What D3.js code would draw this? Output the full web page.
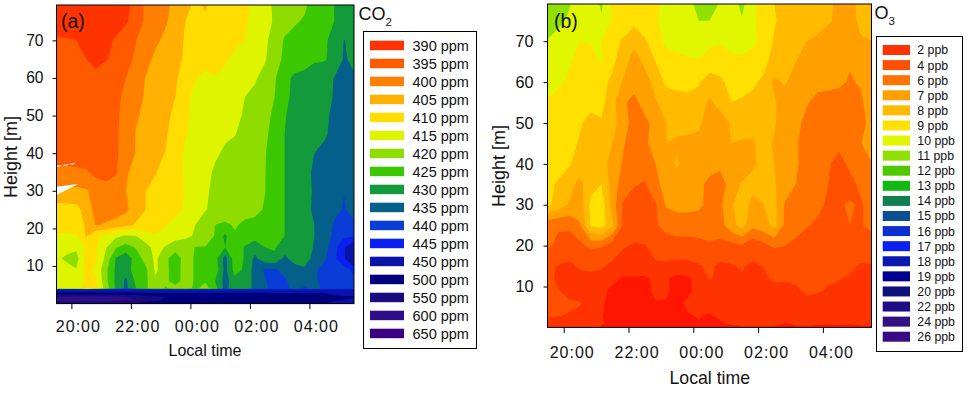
<!DOCTYPE html>
<html>
<head>
  <meta charset="utf-8">
  <script src="https://d3js.org/d3.v7.min.js"></script>
  <style>
  body { margin:0; background:#fff; }
  text { font-family:"Liberation Sans", Arial, sans-serif; fill:#111; }
  .axis path { display:none; }
  .axis line { stroke:#000; }
</style>
</head>
<body>
<script>

  // hours after midnight of the first day, 20:00 = 20, 00:00 = 24
  var timeTicks = [20, 22, 24, 26, 28];
  var timeLabels = ["20:00", "22:00", "00:00", "02:00", "04:00"];
  var heightTicks = [10, 20, 30, 40, 50, 60, 70];
  var gridTimes = d3.range(31).map(i => 19.5 + i / 3);

  var co2Levels = [390, 395, 400, 405, 410, 415, 420, 425, 430, 435, 440, 445, 450, 500, 550, 600, 650];
  var co2Colors = ["#ff3300", "#ff5a00", "#ff8000", "#ffb000", "#ffdd00", "#dff500", "#8fdc00", "#3cc800", "#139a3a", "#045f8a", "#0a3cd8", "#0a20f0", "#0a14a8", "#00007f", "#1a0a80", "#2f0f88", "#3a0080"];
  var co2Heights = [80, 75, 70, 65, 60, 55, 50, 45, 40, 35, 30, 25, 21, 18, 15, 12, 9, 6, 4, 3.7, 2.8, 1.8, 0.9, 0];
  var co2Grid = [
    [392,392,392,392,392,392,393,394,396,401,403,404,406,409,410.5,409.5,411,412,413,414,416,418,421,422,423,424,427,428,430,431,432],
    [391,391,391,391,391,392,393,394.5,397,401,403,404.5,407,410,411,410.5,412,413,413.5,414.5,416,418.5,420.5,423,424.5,425.5,428,428,430,431,432],
    [396,395.5,395,394,393,394,395.5,397.5,399.8,402.5,404.2,406,408,410.5,411.5,412,412.5,413,414,415,417,419,422,425.5,426.5,427,429.5,429.5,431,435.2,433],
    [396,396,395.5,395,393.5,394.8,396,398,401,403.5,406,407.5,409,410.5,412,413.5,413.5,414.5,416,416.5,418,419.5,423,426,427,428,429.5,429.5,431.5,435.5,434],
    [396.5,396.5,396.5,396.5,396.5,397,398,400,402.5,405.2,406.5,408,409.5,412,414.8,416,415.2,416,416.5,418,419.5,421.5,424.5,428.5,431,431.5,432,433.5,435.1,437,435.5],
    [397,397,397,397,397,397.5,399,401,403.5,405.5,407,408.5,410,414,416,416.5,417,417.5,418.5,420,421,423,425,429,431,431.5,432.5,434,435.2,436.5,436.5],
    [397,397,397,397,397,397.5,399.5,401,404.5,406,407.5,409,411,414.5,416,417,418,419.7,419,420.5,421.5,423.5,426,429.8,431,432,433,434.5,435.5,436.5,436.5],
    [397,397,397,397,397,397.5,399.5,401.5,405.2,406.5,408,409.5,412,414.8,416,417,418,419.5,419.9,421,422,424,427,430,431,432,433,434.5,436,437,437],
    [397,397,397,397,397.5,398,399.5,401.5,405.3,406.5,408.5,410.2,413.5,415.5,416.5,418,419.5,420.5,421,421.5,422,424.7,427,430,431.5,433,435,436,437,439,438],
    [401.5,401.5,401,400.5,398.5,398,399.5,404.6,406,408,409.8,411.5,413.5,415.5,417,419,420.5,421,422,423,423.5,424.8,427.5,430,432,434,435.5,436,437.5,439.5,438],
    [406,406,406,405.5,403,402,402,405,407,410,411,412,413.5,415.3,418,419.6,420.6,421.5,422,423,423.5,424.8,428,430,432,433.5,435.5,436,437,439.8,438],
    [412,412,411.5,408,403,402.5,402.5,404,407.5,410,411,412.5,414,415.5,418,419.8,421,421.5,422,423,423.5,425.5,428,430,432,434,435.5,436,438.5,440.5,437.5],
    [412,412,412,409.5,404.5,405.5,407,408,410.5,412,413.5,414.8,416,418.5,420,421.5,425,425.8,424.5,426,426.5,427,428.5,430,431.5,433.5,435,437,440.5,441,441],
    [416,416,415.5,409.5,414.5,416,419,420.5,420.2,417,415.2,416,418,419,420.5,421.5,425.5,431,425.5,426.5,428,427,428,430,431.5,433,435,437,441,444,444.5],
    [417,418,419,414.5,414.5,419.8,424.5,427,424.5,422,418,420.5,423,423,425.2,425.2,427,430,427,430.5,433,430,429.5,433,431.5,432,435.5,438,443,449.5,455],
    [419,421,422,413.5,414.5,421.5,430.5,433,428,423,419,424,427.5,423,425.5,426,428,437,427,430.5,436,432,431,436,433,432,437,439,444,449,460],
    [417,418,419.7,413.5,416,424,431,433,427,426,419,424,427,423,425.5,426.5,427,436.5,428,431,437,440.5,441,438,437,436,439,442,443,443,446],
    [417,417,417,414.5,414.5,424,431,436,429,426,421,424,427,423,425.5,425.5,430,437,432,431,437,439.5,442,441,437.5,437,439,442,443,443,444],
    [417,417,417,413,414.5,422,431,436,430,426,421,425.5,423,423,426,423,428,437,431,431,437,439,442,442,438,441,438,441,443,443,444],
    [455,456,456,455,456,455,456,455,455,453,453,453,452,452,452,452,452,452,452,452,452,452,452,452,452,452,452,452,452,452,452],
    [520,515,515,515,510,510,510,510,510,505,505,505,505,505,505,505,505,505,505,505,505,505,500,500,500,500,500,500,490,480,470],
    [590,610,610,600,610,605,610,600,590,560,560,550,550,540,540,530,530,530,525,520,520,515,510,510,510,510,510,510,505,505,505],
    [620,630,620,620,610,620,610,605,600,570,560,540,540,530,520,520,520,520,510,510,510,510,510,510,505,505,505,505,505,500,490],
    [560,570,560,560,560,560,560,550,540,520,520,510,510,510,505,505,505,505,505,505,505,505,505,505,505,505,505,500,490,470,460]
  ];
  // unfilled gaps at the left edge of panel (a)
  var gapWedgeTimes = [19.5, 20.23, 19.5];
  var gapWedgeHeights = [31.1, 31.8, 28.9];
  var gapLineTimes = [19.5, 20.17];
  var gapLineHeights = [36.5, 37.3];

  var o3Levels = [2, 4, 6, 7, 8, 9, 10, 11, 12, 13, 14, 15, 16, 17, 18, 19, 20, 22, 24, 26];
  var o3Colors = ["#ff3300", "#ff5000", "#ff7300", "#ffa000", "#ffbb00", "#ffe000", "#e0f700", "#90e000", "#50c800", "#10b810", "#108050", "#0a5090", "#0a30d0", "#0a20f0", "#0a18b0", "#000090", "#10107a", "#1e0c85", "#351080", "#3a0a85"];
  var o3BelowColor = "#ff1500";
  var o3Heights = [80, 75, 70, 65, 60, 55, 50, 45, 40, 35, 30, 25, 20, 15, 12, 9, 6, 3, 1, 0];
  var o3Grid = [
    [11.5,11.5,11.2,10.3,10.5,11.2,9.8,9.5,9.5,9.5,9.8,10.2,10.5,10.8,11.3,11.2,11,10.5,11.4,10.2,9.5,9,8.5,8.5,8.5,8.5,8.2,7.8,7.7,8.3,8.5],
    [11.8,11.3,10.8,10.3,10.2,10.9,9.9,9.5,9.3,9.4,9.9,10.3,10.5,10.7,11,11,10.6,10.4,10.9,10.2,9.6,9.1,8.6,8.5,8.5,8.4,8.1,7.8,7.7,8.2,8.5],
    [10.9,10.5,10.3,10,10.1,10,9.3,8.9,8.3,8.9,9.5,10.3,10.5,10.6,10.8,10.2,10.1,10.5,10.4,10.2,9.7,8.9,8.6,8.3,8,7.8,7.6,7.5,7.5,7.9,8],
    [10.5,10.3,10.1,9.7,9.5,10.1,9.2,8.5,7.5,8.2,9,9.4,9.6,9.8,9.9,9.6,9.5,9.6,9.8,9.6,9.3,8.6,8.3,8,7.6,7.4,7.4,7.3,7.1,7.4,7.6],
    [10.3,10.1,9.9,9.6,9.4,9.3,8.8,7.9,7.5,7.6,8.3,9.2,9.3,9.3,9.1,8.5,8.8,9.3,9.3,9.2,8.8,7.8,8.1,7.5,7.3,7.3,7.3,7.2,6.9,7.1,7.5],
    [9.9,9.8,9.7,9.5,9.3,9.3,8.3,7.2,6.6,7.5,7.9,8.4,8.6,8.7,8.6,7.8,8.4,9,8.9,8.7,8.5,8.1,7.6,7.4,7.1,6.7,6.6,6.5,6.3,6.8,7.6],
    [9.8,9.7,9.5,9.1,8.7,8.9,8.3,7.6,6.5,6.7,7.4,8,8.2,8.3,8.2,7.5,7.5,8.1,8.4,8.4,8.3,8.1,7.5,7.3,6.7,6.5,6.3,6.3,6.4,6.7,7.3],
    [9.6,9.5,9.3,8.9,8.6,8.5,8,7.1,6.5,6.8,7.4,8,7.9,7.8,7.7,7.4,7.6,8,7.9,7.9,8.3,7.9,7.5,7.1,6.6,6.4,6.2,6.2,6.4,6.9,8.1],
    [9.4,9.3,9.1,8.6,8.3,8.3,7.7,6.9,6.3,6.4,7,7.7,8.1,7.5,7.4,7.3,7.2,7.2,7.4,7.9,8.2,8,7.6,7.1,6.7,6.4,6.1,5.7,6.2,6.6,6.9],
    [9.2,8.9,8.4,7.7,8.7,9,7.6,6.5,6.1,5.9,6.8,7.3,7.5,7.2,7.2,6.8,6.6,7.4,8.1,8.2,8.3,8.1,7.5,7,6.7,6.3,6,5.6,5.7,6.2,6.4],
    [9.2,8.6,7.9,7.5,9.2,9.6,7.5,5.9,5.4,5.5,5.9,7.1,7.3,7.3,7.2,6.7,6.8,7.9,8.4,7.8,8,8.3,6.9,6.7,6.6,6.3,5.8,5.9,6.1,5.9,6.3],
    [6.3,6.2,6.2,6.9,9.1,9.5,8.2,5.8,5.2,5.3,5.9,6.4,6.5,6.5,6.5,6.4,6.6,7.6,8.4,7.3,7.6,8.3,6.8,6.5,6.1,5.8,5.9,5.9,6,5.9,6.3],
    [6.3,5.6,5.5,5.7,6.3,6.2,5.5,4.2,3.8,3.9,5.2,5.4,5.6,5.6,5.7,5.9,5.7,5.7,5.9,5.3,5.7,6.2,6,5.7,5.3,5.4,5.1,5.4,5.3,5.2,5.4],
    [4.5,3.9,3.5,4.3,4.4,4.3,3.5,3,2.5,3,3.5,3.5,3.3,3.3,3.8,4.5,3.5,3.8,4.2,3.6,4.1,4.6,4.7,4.8,4.8,4.8,4.7,4.6,4.4,3.8,3.8],
    [4.4,3.7,3.1,3.4,3.5,3.2,2.6,1.8,1.9,1.8,2.3,2.2,1.5,1.7,2.8,4.2,3.5,3.5,3.8,3.6,3.7,4.3,4.2,4.4,4.5,4.5,4.3,4.1,3.8,3.3,3.3],
    [4.6,4.1,3.3,3,3,2.6,1.5,1.3,1.7,1.5,2.4,2.3,1.3,1.6,2.6,2.8,3,3.2,3.2,3.2,3.3,3.4,3.4,3.7,4.4,4.2,3.8,3.5,3.3,3.1,3.1],
    [4.7,4.6,4.3,4.1,3.2,2.3,1.3,1.2,1.2,1.3,1.9,1.9,1.6,2.3,2.7,2.8,2.8,2.2,3.1,2.9,2.9,3,3,3,3.4,3.3,3.2,3.1,3,3,3],
    [4.2,4.1,3.9,3.7,2.8,2.1,1.3,1.2,1.2,1.3,1.6,1.7,1.5,1.9,2.1,1.9,2.4,2.2,2.7,2.7,2.8,2.8,2.8,2.7,2.8,2.8,2.8,2.8,2.8,2.8,2.8],
    [3.4,3.4,3.3,3.2,2.8,2.2,1.4,1.3,1.3,1.3,1.4,1.4,1.4,1.6,1.9,1.7,1.8,2.2,2.6,2.6,2.6,2.5,1.9,2.3,2.5,2.2,2.1,2.2,2.1,2.3,2.3],
    [3,3,2.8,2.7,2.4,1.8,1.2,1.1,1.1,1.1,1.2,1.2,1.2,1.2,1.5,1.5,1.4,1.6,1.8,1.8,1.8,1.8,1.7,1.8,1.8,1.7,1.7,1.7,1.7,1.8,1.8]
  ];

  var svg = d3.select("body").append("svg")
    .attr("width", 976)
    .attr("height", 393)
    .style("display", "block");

  // contour fill of one grid, painted from the lowest level up
  function drawContours(id, grid, heights, levels, colors, x, y) {
    var rows = heights.length, cols = gridTimes.length;
    // repeat the edge cells so the bands reach the frame
    var values = [];
    for (var r = -1; r <= rows; r++) {
      var row = grid[Math.max(0, Math.min(rows - 1, r))];
      for (var c = -1; c <= cols; c++) {
        values.push(row[Math.max(0, Math.min(cols - 1, c))]);
      }
    }

    var colToTime = d3.scaleLinear().domain(d3.range(cols)).range(gridTimes);
    var rowToHeight = d3.scaleLinear().domain(d3.range(rows)).range(heights);
    var path = d3.geoPath(d3.geoTransform({
      point: function(px, py) {
        this.stream.point(x(colToTime(px - 1.5)), y(rowToHeight(py - 1.5)));
      }
    }));

    svg.append("clipPath").attr("id", id)
      .append("rect")
      .attr("x", x.range()[0]).attr("y", y.range()[1])
      .attr("width", x.range()[1] - x.range()[0])
      .attr("height", y.range()[0] - y.range()[1]);

    var contours = d3.contours().size([cols + 2, rows + 2]).thresholds(levels)(values);

    svg.append("g").attr("clip-path", "url(#" + id + ")")
      .selectAll("path")
      .data(contours)
      .enter().append("path")
      .attr("d", path)
      .attr("fill", (d, i) => colors[i])
      .attr("stroke", "none");
  }

  function drawAxes(x, y, o) {
    svg.append("g")
      .attr("class", "x axis")
      .attr("transform", "translate(0," + y.range()[0] + ")")
      .call(d3.axisBottom(x).tickValues(timeTicks).tickFormat((d, i) => timeLabels[i]).tickSize(5.5))
      .selectAll("text")
      .attr("dx", o.xDx)
      .attr("y", o.xTextY)
      .attr("dy", 0)
      .style("font-family", '"Liberation Sans"')
      .style("font-size", "16px")
      .style("letter-spacing", "1px");

    svg.append("g")
      .attr("class", "y axis")
      .attr("transform", "translate(" + x.range()[0] + ",0)")
      .call(d3.axisLeft(y).tickValues(heightTicks).tickSize(4).tickPadding(o.yPad))
      .selectAll("text")
      .style("font-family", '"Liberation Sans"')
      .style("font-size", o.yFont + "px");

    // frame
    svg.append("rect")
      .attr("x", x.range()[0]).attr("y", y.range()[1])
      .attr("width", x.range()[1] - x.range()[0])
      .attr("height", y.range()[0] - y.range()[1])
      .attr("fill", "none").attr("stroke", "#000");

    svg.append("text")
      .attr("x", o.xLabelX).attr("y", o.xLabelY)
      .attr("text-anchor", "middle")
      .style("font-size", o.xLabelFont + "px")
      .text("Local time");

    svg.append("text")
      .attr("transform", "translate(" + o.yLabelX + "," + o.yLabelY + ") rotate(-90)")
      .attr("text-anchor", "middle")
      .style("font-size", "18px")
      .text("Height [m]");

    svg.append("text")
      .attr("x", o.tagX).attr("y", 28)
      .style("font-size", "19.5px")
      .text(o.tag);
  }

  function drawLegend(o) {
    svg.append("rect")
      .attr("x", o.x).attr("y", o.y)
      .attr("width", o.w).attr("height", o.h)
      .attr("fill", "#fff").attr("stroke", "#000");

    var items = svg.append("g").selectAll("g")
      .data(o.levels)
      .enter().append("g")
      .attr("transform", (d, i) => "translate(" + o.swatchX + "," + (o.firstY + i * o.step) + ")");

    items.append("rect")
      .attr("width", o.swatchW)
      .attr("height", o.swatchH)
      .attr("fill", (d, i) => o.colors[i]);

    items.append("text")
      .attr("x", o.textDx)
      .attr("y", o.swatchH / 2)
      .attr("dy", ".36em")
      .style("font-size", o.font + "px")
      .text(d => d + " " + o.unit);

    var title = svg.append("text").attr("x", o.titleX).attr("y", o.titleY).style("font-size", "18px");
    title.append("tspan").text(o.title);
    title.append("tspan").attr("dy", 6).style("font-size", "11.5px").text(o.sub);
  }

  // panel (a)
  var xA = d3.scaleLinear().domain([19.5, 29.5]).range([56.5, 354]);
  var yA = d3.scaleLinear().domain([0, 79.4]).range([303.6, 5]);

  drawContours("clip-a", co2Grid, co2Heights, co2Levels, co2Colors, xA, yA);

  svg.append("path")
    .datum(gapWedgeTimes.map((t, i) => [xA(t), yA(gapWedgeHeights[i])]))
    .attr("d", d => d3.line()(d) + "Z")
    .attr("fill", "#fff");

  svg.append("path")
    .datum(gapLineTimes.map((t, i) => [xA(t), yA(gapLineHeights[i])]))
    .attr("d", d3.line())
    .attr("fill", "none")
    .attr("stroke", "#fff")
    .attr("stroke-width", 1)
    .attr("stroke-dasharray", "5,2");

  drawAxes(xA, yA, {
    xDx: 6.5, xTextY: 28, yPad: 9, yFont: 15.6,
    xLabelX: 205, xLabelY: 356, xLabelFont: 16,
    yLabelX: 17, yLabelY: 157, tagX: 61, tag: "(a)"
  });

  drawLegend({
    x: 363.5, y: 31.5, w: 113, h: 317,
    swatchX: 370, swatchW: 34, swatchH: 9.5, firstY: 40.7, step: 18,
    textDx: 42.5, font: 14.5, levels: co2Levels, colors: co2Colors, unit: "ppm",
    titleX: 358.5, titleY: 20, title: "CO", sub: "2"
  });

  // panel (b)
  var xB = d3.scaleLinear().domain([19.5, 29.5]).range([547.5, 871.5]);
  var yB = d3.scaleLinear().domain([0, 79.1]).range([327.4, 4]);

  svg.append("rect")
    .attr("x", 547.5).attr("y", 4).attr("width", 324).attr("height", 323.4)
    .attr("fill", o3BelowColor);

  drawContours("clip-b", o3Grid, o3Heights, o3Levels, o3Colors, xB, yB);

  drawAxes(xB, yB, {
    xDx: 8, xTextY: 30.5, yPad: 10, yFont: 16.2,
    xLabelX: 709.8, xLabelY: 384, xLabelFont: 17.7,
    yLabelX: 505, yLabelY: 166, tagX: 554, tag: "(b)"
  });

  drawLegend({
    x: 876.5, y: 36.5, w: 86, h: 315,
    swatchX: 882.7, swatchW: 27.3, swatchH: 10, firstY: 45, step: 15.09,
    textDx: 34.6, font: 12.3, levels: o3Levels, colors: o3Colors, unit: "ppb",
    titleX: 874.5, titleY: 19, title: "O", sub: "3"
  });

</script>
</body>
</html>
